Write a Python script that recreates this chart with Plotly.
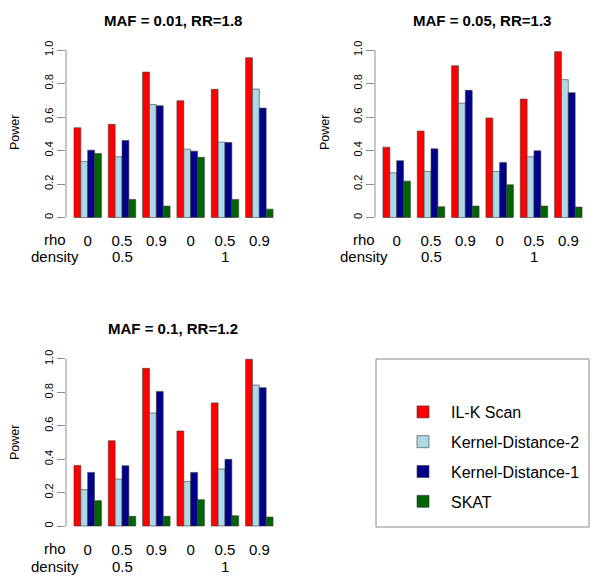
import plotly.graph_objects as go

# ---- data ----
rho_labels = ["0", "0.5", "0.9", "0", "0.5", "0.9"]
density_labels = ["0.5", "1"]
density_pos = [1, 4]
y_tick_vals = [0, 0.2, 0.4, 0.6, 0.8, 1.0]
y_tick_text = ["0", "0.2", "0.4", "0.6", "0.8", "1.0"]

series_names = ["IL-K Scan", "Kernel-Distance-2", "Kernel-Distance-1", "SKAT"]
series_colors = ["#FF0000", "#ADD8E6", "#00008B", "#006400"]

titles = ["MAF = 0.01, RR=1.8", "MAF = 0.05, RR=1.3", "MAF = 0.1, RR=1.2"]

p1_ilk = [0.536, 0.556, 0.868, 0.697, 0.765, 0.954]
p1_kd2 = [0.335, 0.363, 0.675, 0.408, 0.450, 0.767]
p1_kd1 = [0.402, 0.460, 0.667, 0.396, 0.448, 0.653]
p1_skat = [0.382, 0.108, 0.068, 0.359, 0.108, 0.050]

p2_ilk = [0.420, 0.516, 0.906, 0.594, 0.707, 0.990]
p2_kd2 = [0.267, 0.275, 0.683, 0.275, 0.363, 0.823]
p2_kd1 = [0.339, 0.410, 0.759, 0.329, 0.398, 0.745]
p2_skat = [0.217, 0.064, 0.068, 0.195, 0.068, 0.062]

p3_ilk = [0.363, 0.511, 0.944, 0.569, 0.737, 0.998]
p3_kd2 = [0.218, 0.281, 0.677, 0.267, 0.341, 0.844]
p3_kd1 = [0.321, 0.361, 0.806, 0.321, 0.399, 0.828]
p3_skat = [0.152, 0.058, 0.058, 0.158, 0.062, 0.054]

panels = [
    [p1_ilk, p1_kd2, p1_kd1, p1_skat],
    [p2_ilk, p2_kd2, p2_kd1, p2_skat],
    [p3_ilk, p3_kd2, p3_kd1, p3_skat],
]

# ---- layout geometry (pixels in a 601x579 canvas) ----
W, H = 601, 579
FONT = "Liberation Sans, Arial, Helvetica, sans-serif"
AXC = "#8f8f8f"

# (x_left, x_right, y_top, y_bottom) of plot regions in px
regions = [
    (66.0, 281.0, 43.3, 224.2),
    (375.0, 590.0, 43.3, 224.2),
    (66.0, 281.0, 352.3, 532.7),
]
title_pos = [(173, 20), (482, 20), (173, 329)]
power_pos = [(15, 133), (325, 133), (15, 443)]
rho_row = [240, 240, 548]
dens_row = [257, 257, 566]
name_x = [55, 364, 55]

x_idx = list(range(len(rho_labels)))

fig = go.Figure()
annotations = []
shapes = []


def ann(text, x, y, size, xref="paper", angle=0):
    return dict(text=text, x=x, y=y, xref=xref, yref="paper", showarrow=False,
                xanchor="center", yanchor="middle", textangle=angle,
                font=dict(size=size, family=FONT, color="#000"))


for p, vals in enumerate(panels):
    ax = "" if p == 0 else str(p + 1)
    for s, (name, col) in enumerate(zip(series_names, series_colors)):
        fig.add_trace(go.Bar(
            x=x_idx, y=vals[s], name=name,
            marker=dict(color=col, line=dict(color="#3a3a3a", width=0.6)),
            xaxis="x" + ax, yaxis="y" + ax,
            legendgroup=name, showlegend=(p == 0),
        ))
    xl, xr, yt, yb = regions[p]
    fig.layout["xaxis" + ax] = dict(
        domain=[xl / W, xr / W], range=[-0.632, 5.632], anchor="y" + ax,
        tickvals=x_idx, ticktext=rho_labels, showline=False, showgrid=False,
        zeroline=False, ticks="", tickfont=dict(size=15, color="#000", family=FONT),
        ticklabelstandoff=6, automargin=False,
    )
    fig.layout["yaxis" + ax] = dict(
        domain=[1 - yb / H, 1 - yt / H], range=[-0.04, 1.04], anchor="x" + ax,
        tickvals=y_tick_vals, ticktext=y_tick_text, tickangle=-90,
        ticks="outside", ticklen=8, tickcolor=AXC, tickwidth=1,
        showline=False, showgrid=False, zeroline=False, automargin=False,
        tickfont=dict(size=11, color="#000", family=FONT),
    )
    shapes.append(dict(type="line", xref="x" + ax + " domain", yref="y" + ax,
                       x0=0, x1=0, y0=0, y1=1, line=dict(color=AXC, width=1)))
    tx, ty = title_pos[p]
    annotations.append(ann("<b>" + titles[p] + "</b>", tx / W, 1 - ty / H, 15))
    px_, py_ = power_pos[p]
    annotations.append(ann("Power", px_ / W, 1 - py_ / H, 12.5, angle=-90))
    annotations.append(ann("rho", name_x[p] / W, 1 - rho_row[p] / H, 15))
    annotations.append(ann("density", name_x[p] / W, 1 - dens_row[p] / H, 15))
    for lab, pos in zip(density_labels, density_pos):
        annotations.append(ann(lab, pos, 1 - dens_row[p] / H, 15, xref="x" + ax))

# legend box
shapes.append(dict(type="rect", xref="paper", yref="paper",
                   x0=376 / W, x1=589 / W, y0=1 - 527 / H, y1=1 - 359 / H,
                   line=dict(color="#8a8a8a", width=1)))

fig.update_layout(
    width=W, height=H, margin=dict(l=0, r=0, t=0, b=0, autoexpand=False),
    paper_bgcolor="white", plot_bgcolor="white",
    barmode="group", bargap=0.2, bargroupgap=0,
    annotations=annotations, shapes=shapes,
    showlegend=True,
    legend=dict(x=395 / W, y=1 - 395 / H, xanchor="left", yanchor="top",
                xref="container", yref="container",
                bgcolor="rgba(0,0,0,0)", borderwidth=0,
                font=dict(size=16, family=FONT, color="#000"),
                itemwidth=46, tracegroupgap=6, traceorder="grouped"),
    font=dict(family=FONT),
)

fig.write_html("out.html", config={"displayModeBar": False},
               post_script="document.body.style.margin='0';document.body.style.overflow='hidden';")
